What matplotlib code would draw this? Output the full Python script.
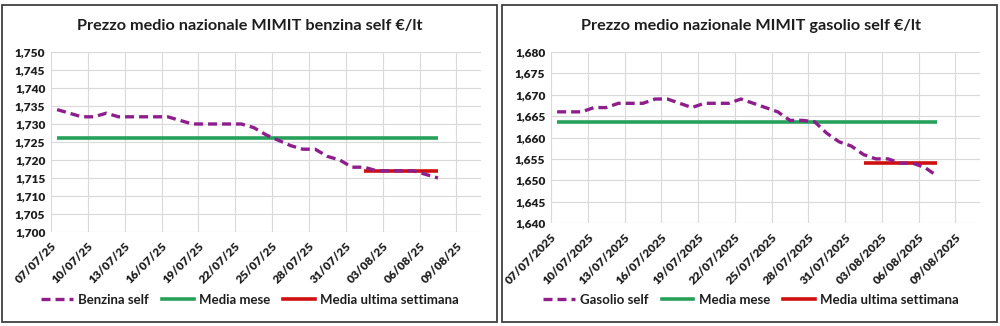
import matplotlib
matplotlib.use("Agg")
import matplotlib.pyplot as plt
from matplotlib.lines import Line2D
from matplotlib.patches import Rectangle
from matplotlib.ticker import FuncFormatter

plt.rcParams['font.family'] = ['Lato', 'DejaVu Sans']

# days since 07/07/2025 (32 daily values, 07/07 .. 07/08)
benzina_self = [1.734, 1.733, 1.732, 1.732, 1.733, 1.732, 1.732, 1.732, 1.732, 1.732,
                1.731, 1.730, 1.730, 1.730, 1.730, 1.730, 1.729, 1.727, 1.7255, 1.724,
                1.723, 1.723, 1.721, 1.720, 1.718, 1.718, 1.717, 1.717, 1.717, 1.717,
                1.716, 1.715]
gasolio_self = [1.666, 1.666, 1.666, 1.667, 1.667, 1.668, 1.668, 1.668, 1.669, 1.669,
                1.668, 1.667, 1.668, 1.668, 1.668, 1.669, 1.668, 1.667, 1.666, 1.664,
                1.664, 1.6637, 1.661, 1.659, 1.658, 1.656, 1.655, 1.655, 1.654, 1.654,
                1.653, 1.651]
benzina_media_mese = 1.726
benzina_media_settimana = 1.717
gasolio_media_mese = 1.6636
gasolio_media_settimana = 1.654
week_start_day = 25  # 01/08

tick_labels_short = ["07/07/25", "10/07/25", "13/07/25", "16/07/25", "19/07/25", "22/07/25",
                     "25/07/25", "28/07/25", "31/07/25", "03/08/25", "06/08/25", "09/08/25"]
tick_labels_long = ["07/07/2025", "10/07/2025", "13/07/2025", "16/07/2025", "19/07/2025",
                    "22/07/2025", "25/07/2025", "28/07/2025", "31/07/2025", "03/08/2025",
                    "06/08/2025", "09/08/2025"]

PURPLE = "#8E1E8C"
GREEN = "#27A05A"
RED = "#D01010"
GRID = "#D9D9D9"
DASH = (2.7, 1.5)

fig = plt.figure(figsize=(10, 3.26), dpi=100)

# panel borders
for x0, x1 in [(0.002, 0.497), (0.502, 0.997)]:
    fig.patches.append(Rectangle((x0, 1 - 322 / 326), x1 - x0, (322 - 5) / 326,
                                 transform=fig.transFigure, fill=False,
                                 edgecolor="#404040", linewidth=1.3))


def panel(rect, values, mm, ms, ylim, yticks, xlabels, title, series_name, center_x):
    ax = fig.add_axes(rect)
    n = len(values)
    xs = [d + 0.5 for d in range(n)]
    ax.plot(xs, [mm] * n, color=GREEN, lw=2.6, solid_capstyle='butt', zorder=2)
    ax.plot(xs[week_start_day:], [ms] * (n - week_start_day), color=RED, lw=2.6,
            solid_capstyle='butt', zorder=2)
    ax.plot(xs, values, color=PURPLE, lw=2.4, dashes=DASH, zorder=3)
    ax.set_xlim(0, 35)
    ax.set_ylim(*ylim)
    ax.set_yticks(yticks)
    ax.yaxis.set_major_formatter(FuncFormatter(lambda v, p: f"{v:.3f}".replace(".", ",")))
    ax.set_xticks([3 * i for i in range(len(xlabels))])
    ax.set_xticklabels(xlabels, rotation=45, ha='right', rotation_mode='anchor')
    ax.grid(True, color=GRID, lw=0.8)
    ax.set_axisbelow(True)
    for s in ax.spines.values():
        s.set_visible(False)
    ax.tick_params(length=0, labelsize=8.6, pad=4)
    for lab in ax.get_xticklabels() + ax.get_yticklabels():
        lab.set_fontweight('heavy')
        lab.set_color("#1E1E1E")
    ax.tick_params(axis='x', pad=6)
    fig.text(center_x, 1 - 26 / 326, title, ha='center', va='center',
             fontsize=11.7, fontweight='bold', color="#1E1E1E")
    handles = [Line2D([], [], color=PURPLE, lw=2.4, dashes=DASH),
               Line2D([], [], color=GREEN, lw=2.6),
               Line2D([], [], color=RED, lw=2.6)]
    leg = fig.legend(handles, [series_name, "Media mese", "Media ultima settimana"],
                     loc='center', bbox_to_anchor=(center_x, 1 - 300 / 326),
                     bbox_transform=fig.transFigure, ncol=3, frameon=False,
                     prop={'weight': 'bold', 'size': 9.5}, handlelength=2.4,
                     handletextpad=0.4, columnspacing=1.0)
    for t in leg.get_texts():
        t.set_color("#1E1E1E")
    return ax


panel([0.051, 1 - 232 / 326, 0.430, 180 / 326], benzina_self, benzina_media_mese,
      benzina_media_settimana, (1.700, 1.750),
      [1.700 + 0.005 * i for i in range(11)], tick_labels_short,
      "Prezzo medio nazionale MIMIT benzina self €/lt", "Benzina self", 0.250)
panel([0.551, 1 - 223 / 326, 0.429, 171 / 326], gasolio_self, gasolio_media_mese,
      gasolio_media_settimana, (1.640, 1.680),
      [1.640 + 0.005 * i for i in range(9)], tick_labels_long,
      "Prezzo medio nazionale MIMIT gasolio self €/lt", "Gasolio self", 0.751)

fig.savefig("out.png", dpi=100)
